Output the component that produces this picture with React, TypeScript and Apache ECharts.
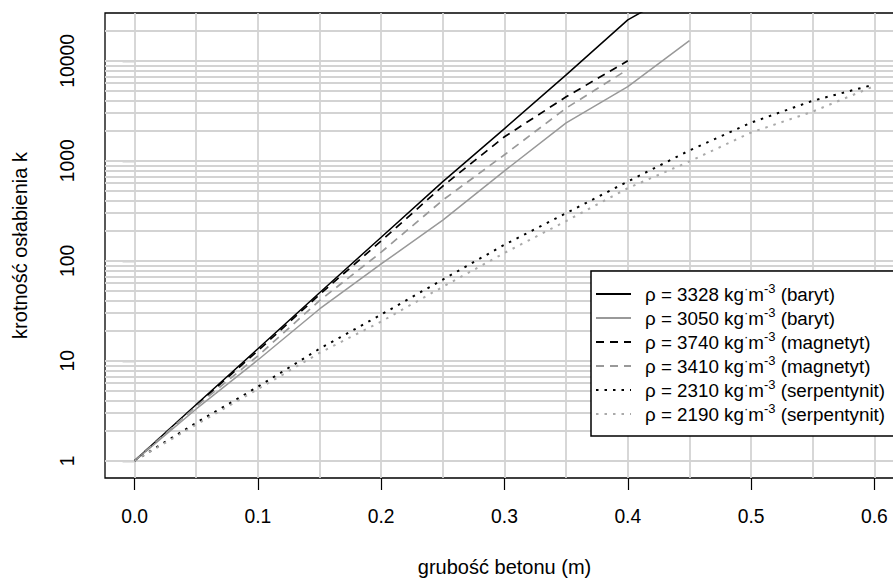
import React, { useEffect, useRef } from "react";
import * as echarts from "echarts";

const FONT = '"Liberation Sans", Arial, Helvetica, sans-serif';

// grubość betonu (m)
const thickness = [0, 0.05, 0.1, 0.15, 0.2, 0.25, 0.3, 0.35, 0.4, 0.45, 0.5, 0.55, 0.6];

// krotność osłabienia k
const barytHigh = [1, 3.66, 13.2, 48, 172, 620, 2100, 7240, 25700, 57000];
const barytLow = [1, 3.3, 10.2, 33, 93, 255, 794, 2400, 5530, 15900];
const magnetytHigh = [1, 3.6, 12.6, 46, 158, 560, 1740, 4370, 10000];
const magnetytLow = [1, 3.5, 11.2, 40, 122, 405, 1150, 3370, 8200];
const serpHigh = [1, 2.4, 5.5, 13.2, 29, 65, 145, 300, 621, 1270, 2410, 3990, 5800];
const serpLow = [1, 2.3, 5.2, 12, 24.7, 55, 120, 250, 533, 986, 1920, 3110, 5600];

const densities = [3328, 3050, 3740, 3410, 2310, 2190];
const materials = ["baryt", "baryt", "magnetyt", "magnetyt", "serpentynit", "serpentynit"];

const xTickValues = [0, 0.1, 0.2, 0.3, 0.4, 0.5, 0.6];
const yTickValues = [1, 10, 100, 1000, 10000];
const xGridValues = [0, 0.05, 0.1, 0.15, 0.2, 0.25, 0.3, 0.35, 0.4, 0.45, 0.5, 0.55, 0.6];
const yGridValues = [
  1, 2, 3, 4, 5, 6, 7, 8, 9,
  10, 20, 30, 40, 50, 60, 70, 80, 90,
  100, 200, 300, 400, 500, 600, 700, 800, 900,
  1000, 2000, 3000, 4000, 5000, 6000, 7000, 8000, 9000,
  10000, 20000,
];

const seriesValues = [barytHigh, barytLow, magnetytHigh, magnetytLow, serpHigh, serpLow];
const seriesColors = ["#000000", "#999999", "#000000", "#999999", "#000000", "#aaaaaa"];
const seriesDash: any[] = ["solid", "solid", [8, 6], [8, 6], [2.5, 6], [2.5, 6]];
const seriesWidth = [1.5, 1.5, 1.7, 1.7, 2, 2];

const names = densities.map((d, i) => `ρ = ${d} kg·m-3 (${materials[i]})`);

export default function App() {
  const ref = useRef<HTMLDivElement>(null);
  useEffect(() => {
    if (!ref.current) return;
    const chart = echarts.init(ref.current, null, { renderer: "svg" });
    const dataSeries = seriesValues.map((vals, i) => ({
      name: names[i],
      type: "line",
      data: vals.map((v, j) => [thickness[j], v]),
      symbol: "none",
      showSymbol: false,
      silent: true,
      clip: true,
      z: 3,
      lineStyle: { color: seriesColors[i], width: seriesWidth[i], type: seriesDash[i], cap: "butt" },
      itemStyle: { color: seriesColors[i] },
      emphasis: { disabled: true },
    }));
    const option: any = {
      animation: false,
      backgroundColor: "#fff",
      textStyle: { fontFamily: FONT },
      grid: {
        left: 105,
        top: 13,
        width: 799,
        height: 465,
        show: true,
        borderColor: "#000",
        borderWidth: 1.3,
        backgroundColor: "transparent",
        containLabel: false,
        outerBoundsMode: "none",
      },
      xAxis: {
        type: "value",
        min: -0.024,
        max: 0.624,
        name: "grubość betonu (m)",
        nameLocation: "middle",
        nameGap: 79,
        nameTextStyle: { fontSize: 20, color: "#000", fontFamily: FONT },
        axisLine: { show: false },
        axisTick: { show: true, length: 12, customValues: xTickValues, lineStyle: { color: "#000", width: 1.2 } },
        axisLabel: {
          show: true,
          customValues: xTickValues,
          margin: 29,
          fontSize: 19.3,
          color: "#000",
          fontFamily: FONT,
          formatter: (v: number) => v.toFixed(1),
        },
        splitLine: { show: false },
      },
      yAxis: {
        type: "log",
        logBase: 10,
        min: 0.673,
        max: 30100,
        name: "krotność osłabienia k",
        nameLocation: "middle",
        nameGap: 75,
        nameTextStyle: { fontSize: 20, color: "#000", fontFamily: FONT },
        axisLine: { show: false },
        axisTick: { show: true, length: 12, customValues: yTickValues, lineStyle: { color: "#000", width: 1.2 } },
        axisLabel: {
          show: true,
          customValues: yTickValues,
          rotate: 90,
          margin: 28,
          fontSize: 19.3,
          color: "#000",
          fontFamily: FONT,
          formatter: (v: number) => String(Math.round(v)),
        },
        splitLine: { show: false },
      },
      legend: {
        orient: "vertical",
        left: 591,
        top: 271,
        z: 50,
        data: names,
        itemWidth: 35,
        itemHeight: 14,
        itemGap: 0,
        padding: [11, 14, 10, 4],
        borderColor: "#000",
        borderWidth: 1.5,
        backgroundColor: "#fff",
        selectedMode: false,
        itemStyle: { opacity: 0 },
        formatter: (name: string) => {
          const i = names.indexOf(name);
          return `{a|ρ = ${densities[i]} kg}{d|·}{a|m}{s|-3}{a| (${materials[i]})}`;
        },
        textStyle: {
          fontSize: 18.8,
          color: "#000",
          fontFamily: FONT,
          lineHeight: 24,
          padding: [0, 0, 0, 9],
          rich: {
            a: { fontSize: 18.8, lineHeight: 24, color: "#000", fontFamily: FONT },
            s: { fontSize: 13, lineHeight: 13, verticalAlign: "top", color: "#000", fontFamily: FONT },
            d: { fontSize: 13, lineHeight: 13, verticalAlign: "top", color: "#000", fontFamily: FONT },
          },
        },
      },
      series: [
        {
          name: "grid",
          type: "line",
          data: [],
          silent: true,
          z: 1,
          markLine: {
            silent: true,
            z: 1,
            symbol: ["none", "none"],
            label: { show: false },
            animation: false,
            lineStyle: { color: "#d3d3d3", width: 1.8, type: "solid" },
            emphasis: { disabled: true },
            data: [
              ...xGridValues.map((v) => ({ xAxis: v })),
              ...yGridValues.map((v) => ({ yAxis: v })),
            ],
          },
        },
        ...dataSeries,
      ],
    };
    chart.setOption(option);
    return () => chart.dispose();
  }, []);
  return (
    <div
      ref={ref}
      style={{ position: "absolute", left: 0, top: 0, width: 893, height: 578, background: "#fff" }}
    />
  );
}
